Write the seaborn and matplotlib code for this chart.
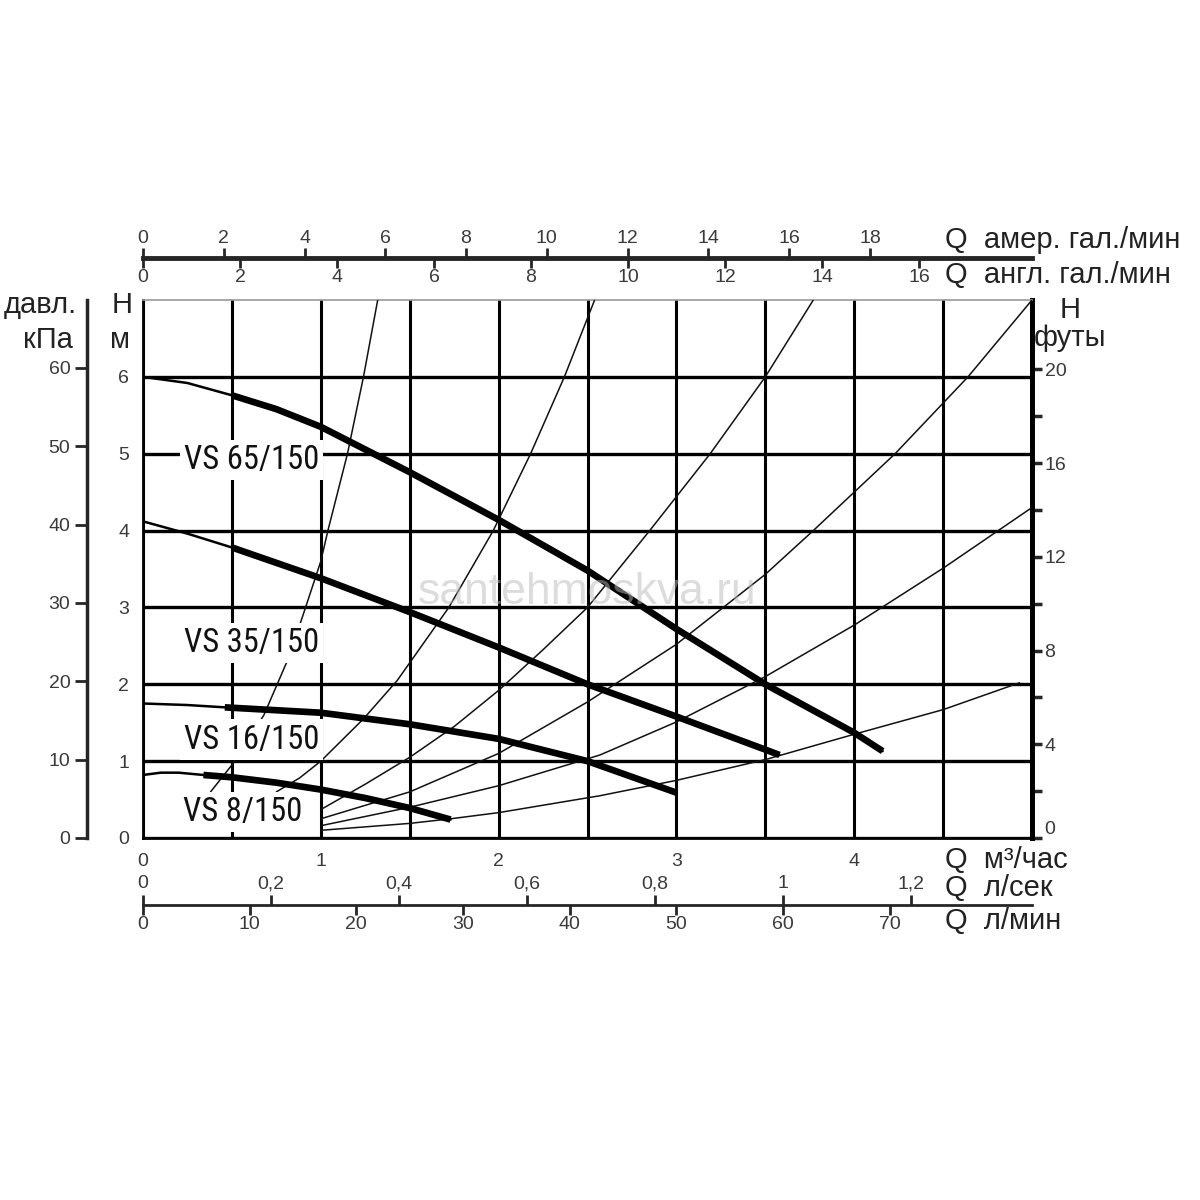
import numpy as np
import pandas as pd
import matplotlib
matplotlib.use("Agg")
import matplotlib.pyplot as plt
import seaborn as sns

# ---------------- data (Q in m3/h, H in m) ----------------
q_vs65 = [0.0, 0.25, 0.5, 0.75, 1.0, 1.5, 2.0, 2.5, 3.0, 3.5, 4.0, 4.16]
h_vs65 = [6.0, 5.92, 5.76, 5.58, 5.35, 4.76, 4.14, 3.48, 2.72, 2.0, 1.37, 1.13]
q_vs35 = [0.0, 0.25, 0.5, 1.0, 1.5, 2.0, 2.5, 3.0, 3.5, 3.58]
h_vs35 = [4.12, 3.96, 3.78, 3.38, 2.94, 2.48, 2.0, 1.58, 1.15, 1.08]
q_vs16 = [0.0, 0.25, 0.46, 1.0, 1.5, 2.0, 2.5, 3.0]
h_vs16 = [1.75, 1.73, 1.70, 1.63, 1.48, 1.29, 1.0, 0.59]
q_vs8 = [0.0, 0.1, 0.2, 0.34, 0.5, 0.75, 1.0, 1.25, 1.5, 1.73]
h_vs8 = [0.82, 0.85, 0.85, 0.82, 0.79, 0.72, 0.63, 0.52, 0.39, 0.24]
pump_names = ["VS 65/150", "VS 35/150", "VS 16/150", "VS 8/150"]
thick_from = [2, 2, 2, 3]

# system curves
q_sysA = [0.38, 0.5, 0.68, 0.82, 0.9, 1.0, 1.04, 1.15, 1.24, 1.32]
h_sysA = [0.6, 0.95, 1.6, 2.35, 2.9, 3.6, 4.0, 5.0, 6.0, 7.0]
q_sysB = [0.75, 0.88, 1.0, 1.24, 1.43, 1.72, 1.97, 2.18, 2.37, 2.54]
h_sysB = [0.6, 0.78, 1.0, 1.55, 2.05, 3.0, 4.0, 5.0, 6.0, 7.0]
q_sysC = [1.0, 1.25, 1.5, 1.75, 2.0, 2.25, 2.5, 2.85, 3.19, 3.5, 3.77]
h_sysC = [0.37, 0.7, 1.05, 1.45, 1.92, 2.45, 3.0, 4.0, 5.0, 6.0, 7.0]
q_sysD = [1.0, 1.5, 2.0, 2.5, 3.0, 3.5, 3.77, 4.23, 4.64, 5.0]
h_sysD = [0.25, 0.6, 1.1, 1.77, 2.52, 3.43, 4.0, 5.0, 6.0, 7.0]
q_sysE = [1.0, 1.5, 2.0, 2.57, 3.0, 3.5, 4.0, 4.5, 5.0]
h_sysE = [0.16, 0.4, 0.68, 1.08, 1.51, 2.1, 2.77, 3.51, 4.3]
q_sysF = [1.0, 1.5, 1.73, 2.0, 2.57, 3.0, 3.5, 4.0, 4.5, 4.93]
h_sysF = [0.1, 0.19, 0.25, 0.33, 0.55, 0.75, 1.02, 1.35, 1.67, 2.02]

# axis ticks
m3h_ticks = [0, 1, 2, 3, 4]
m_ticks = [0, 1, 2, 3, 4, 5, 6]
kpa_ticks = [0, 10, 20, 30, 40, 50, 60]
ft_major = [0, 4, 8, 12, 16, 20]
ft_minor = [2, 6, 10, 14, 18]
usg_ticks = [0, 2, 4, 6, 8, 10, 12, 14, 16, 18]
ukg_ticks = [0, 2, 4, 6, 8, 10, 12, 14, 16]
ls_ticks = [0, 0.2, 0.4, 0.6, 0.8, 1.0, 1.2]
ls_labels = ["0", "0,2", "0,4", "0,6", "0,8", "1", "1,2"]
lmin_ticks = [0, 10, 20, 30, 40, 50, 60, 70]

# ---------------- style ----------------
sns.set_theme(style="white")
plt.rcParams["font.family"] = ["Liberation Sans", "DejaVu Sans"]
plt.rcParams["axes.linewidth"] = 2

W = 1200.0
fig = plt.figure(figsize=(12, 12), dpi=100)
fig.patch.set_facecolor("white")
L, R, T, B = 143, 1032, 300, 838
ax = fig.add_axes([L / W, 1 - B / W, (R - L) / W, (B - T) / W])
ax.set_xlim(0, 5)
ax.set_ylim(0, 7)

tick_col = "#3a3a3a"
lab_fs = 21
tk_fs = 14

# grid
ax.set_xticks(m3h_ticks)
ax.set_xticks(np.arange(0.5, 5, 1.0), minor=True)
ax.set_yticks(m_ticks)
ax.grid(True, which="both", axis="x", color="black", lw=2.2)
ax.grid(True, which="major", axis="y", color="black", lw=2.4)
ax.set_axisbelow(True)
ax.tick_params(axis="x", which="both", direction="out", length=7, width=2,
               color="black", labelsize=tk_fs, labelcolor=tick_col, pad=4)
ax.tick_params(axis="y", which="major", direction="out", length=7, width=2,
               color="black", labelsize=tk_fs, labelcolor=tick_col, pad=3)
ax.set_xticklabels([str(t) for t in m3h_ticks])
ax.set_yticklabels([str(t) for t in m_ticks])
for s in ["left", "bottom"]:
    ax.spines[s].set_color("black")
    ax.spines[s].set_linewidth(2)
ax.spines["right"].set_color("black")
ax.spines["right"].set_linewidth(3.5)
ax.spines["top"].set_color("#999999")
ax.spines["top"].set_linewidth(1.2)

# system curves
sys_frames = []
for name, q, h in [("A", q_sysA, h_sysA), ("B", q_sysB, h_sysB), ("C", q_sysC, h_sysC),
                   ("D", q_sysD, h_sysD), ("E", q_sysE, h_sysE), ("F", q_sysF, h_sysF)]:
    sys_frames.append(pd.DataFrame({"Q": q, "H": h, "curve": name}))
sys_df = pd.concat(sys_frames, ignore_index=True)
sns.lineplot(data=sys_df, x="Q", y="H", units="curve", estimator=None, sort=False,
             color="#111111", lw=1.1, ax=ax, zorder=3, legend=False)

# pump curves
pump_q = [q_vs65, q_vs35, q_vs16, q_vs8]
pump_h = [h_vs65, h_vs35, h_vs16, h_vs8]
for name, q, h, k in zip(pump_names, pump_q, pump_h, thick_from):
    df = pd.DataFrame({"Q": q, "H": h})
    sns.lineplot(data=df, x="Q", y="H", estimator=None, sort=False, color="black",
                 lw=1.8, ax=ax, zorder=5, legend=False)
    sns.lineplot(data=df.iloc[k:], x="Q", y="H", estimator=None, sort=False, color="black",
                 lw=4.8, ax=ax, zorder=6, legend=False, solid_capstyle="butt")
ax.set_xlabel("")
ax.set_ylabel("")

# pump labels (condensed face)
label_pos = [(0.61, 4.92), (0.61, 2.54), (0.61, 1.28), (0.56, 0.34)]
cond_family = ["Roboto Condensed", "Open Sans Condensed", "Liberation Sans"]
for name, (lx, ly) in zip(pump_names, label_pos):
    ax.text(lx, ly, name, ha="center", va="center", fontsize=23.5, color="#111111",
            family=cond_family,
            bbox=dict(facecolor="white", edgecolor="none", pad=3), zorder=4)

# watermark
ax.text(2.5, 3.2, "santehmoskva.ru", ha="center", va="center", fontsize=32,
        color="#bbbbbb", alpha=0.5, zorder=8)

# ---------------- secondary axes ----------------
kpa = ax.secondary_yaxis(-56.0 / (R - L), functions=(lambda h: h * 9.80665, lambda p: p / 9.80665))
kpa.set_ticks(kpa_ticks, [str(t) for t in kpa_ticks])
kpa.tick_params(direction="out", length=9, width=2, labelsize=tk_fs, labelcolor=tick_col, pad=3)
kpa.spines["left"].set_linewidth(2.5)

ft = ax.secondary_yaxis("right", functions=(lambda h: h / 0.3048, lambda f: f * 0.3048))
ft.set_ticks(ft_major, [str(t) for t in ft_major])
ft.set_yticks(ft_minor, minor=True)
ft.tick_params(which="both", direction="out", length=7, width=2.5, labelsize=tk_fs,
               labelcolor=tick_col, pad=2)
ft.spines["right"].set_linewidth(3.5)
ft.yaxis.get_majorticklabels()[0].set_verticalalignment("bottom")

top_loc = 1 + (T - 258) / (B - T)
usg = ax.secondary_xaxis(top_loc, functions=(lambda q: q * 1000 / 60 / 3.78541,
                                             lambda g: g * 3.78541 * 60 / 1000))
usg.set_ticks(usg_ticks, [str(t) for t in usg_ticks])
usg.tick_params(direction="out", length=7, width=2, labelsize=tk_fs, labelcolor=tick_col, pad=1)
usg.spines["top"].set_linewidth(3.5)

ukg = ax.secondary_xaxis(top_loc, functions=(lambda q: q * 1000 / 60 / 4.54609,
                                             lambda g: g * 4.54609 * 60 / 1000))
ukg.set_alignment("bottom")
ukg.set_ticks(ukg_ticks, [str(t) for t in ukg_ticks])
ukg.tick_params(direction="out", length=7, width=2, labelsize=tk_fs, labelcolor=tick_col, pad=1)
ukg.spines["bottom"].set_visible(False)

bot_loc = -(905 - B) / (B - T)
ls = ax.secondary_xaxis(bot_loc, functions=(lambda q: q / 3.6, lambda v: v * 3.6))
ls.set_alignment("top")
ls.set_ticks(ls_ticks, ls_labels)
ls.tick_params(direction="out", length=7, width=2, labelsize=tk_fs, labelcolor=tick_col, pad=2)
ls.spines["top"].set_linewidth(2)

lmin = ax.secondary_xaxis(bot_loc, functions=(lambda q: q * 1000 / 60, lambda v: v * 60 / 1000))
lmin.set_alignment("bottom")
lmin.set_ticks(lmin_ticks, [str(t) for t in lmin_ticks])
lmin.tick_params(direction="out", length=7, width=2, labelsize=tk_fs, labelcolor=tick_col, pad=1)
lmin.spines["bottom"].set_visible(False)

def ftxt(x, y, s, ha="left", fs=lab_fs, col="#222222"):
    fig.text(x / W, 1 - y / W, s, ha=ha, va="center", fontsize=fs, color=col)

ftxt(945, 240, "Q  амер. гал./мин")
ftxt(945, 275, "Q  англ. гал./мин")
ftxt(945, 860, "Q  м³/час")
ftxt(945, 888, "Q  л/сек")
ftxt(945, 921, "Q  л/мин")
ftxt(40, 305, "давл.", ha="center")
ftxt(48, 340, "кПа", ha="center")
ftxt(122, 305, "H", ha="center")
ftxt(120, 340, "м", ha="center")
ftxt(1070, 310, "H", ha="center")
ftxt(1070, 338, "футы", ha="center")

fig.savefig("out.png", dpi=100, facecolor="white")
